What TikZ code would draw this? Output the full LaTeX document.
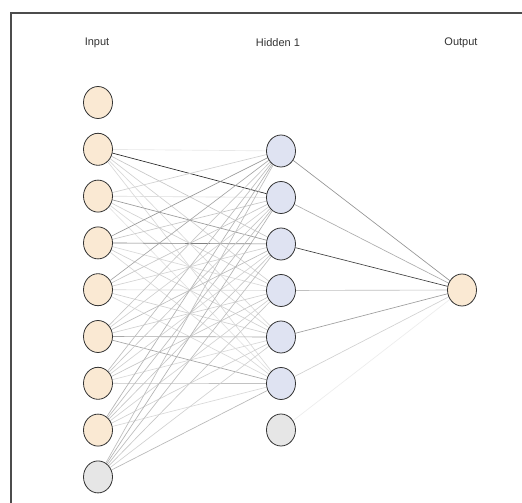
\documentclass[tikz,border=0pt]{standalone}
\usepackage{fontspec}
\setmainfont{Liberation Sans}
\usetikzlibrary{shapes.geometric}
\pgfdeclarelayer{bglayer}
\pgfdeclarelayer{edgelayer}
\pgfsetlayers{bglayer,edgelayer,main}
\definecolor{inpfill}{HTML}{FAE9D3}
\definecolor{hidfill}{HTML}{DFE3F2}
\definecolor{biasfill}{HTML}{E6E6E6}
\tikzset{
  neuron/.style={ellipse, draw=black!80, line width=0.8pt, minimum width=29pt, minimum height=32pt, inner sep=0pt},
  inneuron/.style={neuron, fill=inpfill},
  hidneuron/.style={neuron, fill=hidfill},
  biasneuron/.style={neuron, fill=biasfill},
  layerlabel/.style={font=\fontsize{11}{13}\selectfont, text=black!80},
  wline/.style={draw=black!#1, line width=0.65pt},
  frameline/.style={draw=black!70, line width=1.5pt}
}
\begin{document}
\begin{tikzpicture}[x=1pt,y=-1pt]
\useasboundingbox (0,0) rectangle (522,503);
\begin{pgfonlayer}{bglayer}
\fill[white] (0,0) rectangle (522,503);
\end{pgfonlayer}
\draw[frameline] (11,503) -- (11,13) -- (522,13);
\node[layerlabel] (lin) at (97,43) {Input};
\node[layerlabel] (lhid) at (278,43) {Hidden 1};
\node[layerlabel] (lout) at (461,43) {Output};
% nodes
\foreach \k in {1,...,8} {
  \node[inneuron] (i\k) at (98,{102.5+46.8*(\k-1)}) {};
}
\node[biasneuron] (i9) at (98,{102.5+46.8*8}) {};
\foreach \k in {1,...,6} {
  \node[hidneuron] (h\k) at (281,{151+46.5*(\k-1)}) {};
}
\node[biasneuron] (h7) at (281,{151+46.5*6}) {};
\node[inneuron] (o1) at (462,290) {};
% connectors
\begin{pgfonlayer}{edgelayer}
\foreach \i/\j/\g in {
  2/1/9, 2/2/85, 2/3/22, 2/4/18, 2/5/15, 2/6/15,
  3/1/18, 3/2/13, 3/3/40, 3/4/18, 3/5/15, 3/6/11,
  4/1/40, 4/2/22, 4/3/50, 4/4/15, 4/5/18, 4/6/15,
  5/1/35, 5/2/22, 5/3/18, 5/4/15, 5/5/18, 5/6/15,
  6/1/22, 6/2/18, 6/3/26, 6/4/18, 6/5/35, 6/6/35,
  7/1/26, 7/2/22, 7/3/18, 7/4/22, 7/5/15, 7/6/24,
  8/1/30, 8/2/26, 8/3/22, 8/4/18, 8/5/18, 8/6/15,
  9/1/26, 9/2/30, 9/3/26, 9/4/22, 9/5/18, 9/6/28} {
  \draw[wline=\g] (i\i) -- (h\j);
}
\foreach \j/\g in {1/42, 2/32, 3/75, 4/25, 5/38, 6/18, 7/7} {
  \draw[wline=\g] (h\j) -- (o1);
}
\end{pgfonlayer}
\end{tikzpicture}
\end{document}
